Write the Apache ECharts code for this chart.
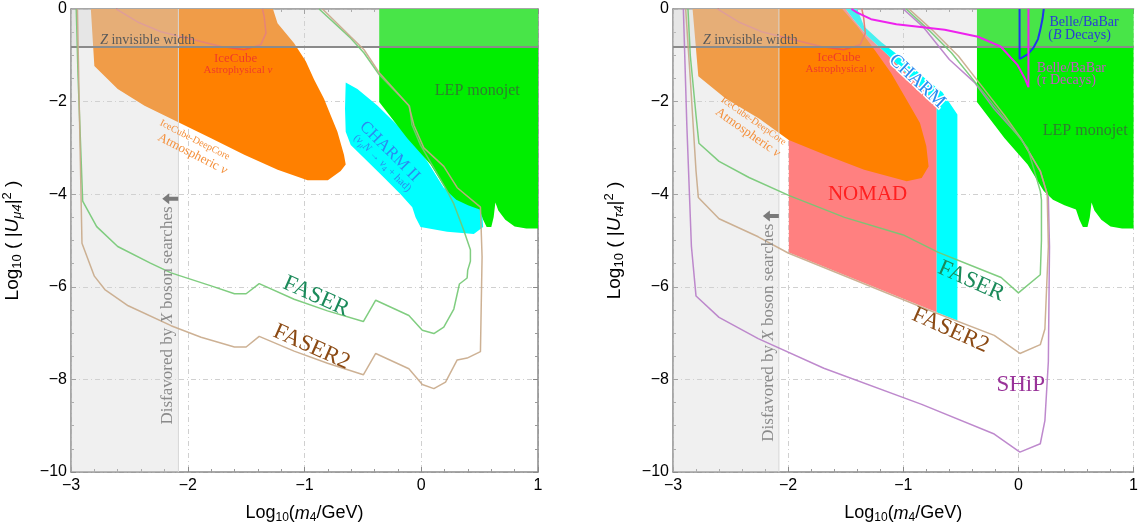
<!DOCTYPE html>
<html><head><meta charset="utf-8">
<script src="https://cdn.jsdelivr.net/npm/echarts@6/dist/echarts.min.js"></script>
<style>html,body{margin:0;padding:0;background:#fff}#c{width:1141px;height:529px}</style>
</head><body><div id="c"></div>
<script>
// ---------------- data (log10 m4/GeV , log10 |U|^2) ----------------
const xTickLabels = [-3, -2, -1, 0, 1];
const yTickLabels = [0, -2, -4, -6, -8, -10];
const xBosonLimit = -2.08;
const zInvisibleLimit = -0.82;

const iceCubeDeepCoreMu = [[-2.83,0],[-1.27,0],[-1.231,-0.31],[-1.089,-0.74],[-0.989,-1.13],[-0.918,-1.52],[-0.833,-1.94],[-0.775,-2.30],[-0.718,-2.65],[-0.662,-3.15],[-0.647,-3.36],[-0.69,-3.50],[-0.80,-3.70],[-0.974,-3.70],[-1.23,-3.47],[-1.516,-3.15],[-1.80,-2.79],[-2.085,-2.44],[-2.37,-2.09],[-2.60,-1.73],[-2.80,-1.23]];
const iceCubeDeepCoreTau = [[-2.83,0],[-1.53,0],[-1.40,-0.37],[-1.25,-0.88],[-1.106,-1.38],[-0.99,-1.88],[-0.855,-2.46],[-0.80,-2.96],[-0.78,-3.40],[-0.84,-3.65],[-0.97,-3.72],[-1.34,-3.47],[-1.68,-3.15],[-1.995,-2.83],[-2.25,-2.37],[-2.54,-1.94],[-2.78,-1.45]];
const iceCubeAstro = [[-2.613,0],[-2.43,-0.28],[-2.23,-0.49],[-1.94,-0.67],[-1.715,-0.81],[-1.516,-0.88],[-1.374,-0.77],[-1.33,-0.52],[-1.345,-0.17],[-1.36,0]];
const charmIIMu = [[-0.647,-1.587],[-0.547,-1.73],[-0.376,-2.085],[-0.091,-2.79],[0.051,-3.29],[0.193,-3.86],[0.336,-4.11],[0.521,-4.35],[0.53,-4.71],[0.45,-4.86],[0.222,-4.81],[-0.006,-4.71],[-0.049,-4.50],[-0.077,-4.28],[-0.177,-4.0],[-0.32,-3.64],[-0.49,-3.22],[-0.604,-2.94],[-0.647,-2.65],[-0.653,-2.155]];
const lepMonojet = [[-0.36,0],[-0.36,-2.01],[-0.12,-2.79],[0.08,-3.36],[0.22,-3.93],[0.30,-4.12],[0.40,-4.24],[0.50,-4.33],[0.53,-4.55],[0.56,-4.71],[0.60,-4.71],[0.62,-4.50],[0.635,-4.18],[0.66,-4.35],[0.72,-4.55],[0.80,-4.70],[0.90,-4.74],[1.0,-4.74],[1.0,0]];
const faserMu = [[-2.955,0],[-2.94,-1.43],[-2.90,-4.15],[-2.78,-4.70],[-2.60,-5.13],[-2.32,-5.49],[-2.143,-5.70],[-1.80,-5.98],[-1.60,-6.15],[-1.50,-6.15],[-1.388,-5.93],[-1.089,-6.27],[-0.803,-6.52],[-0.496,-6.75],[-0.39,-6.29],[-0.106,-6.62],[0.009,-6.94],[0.108,-7.01],[0.193,-6.87],[0.279,-6.48],[0.327,-5.94],[0.393,-5.81],[0.398,-5.64],[0.421,-5.45],[0.421,-5.20],[0.364,-4.78],[0.279,-4.21],[0.222,-3.93],[0.10,-3.40],[-0.006,-2.94],[-0.08,-2.50],[-0.10,-2.10],[-0.36,-1.42],[-0.49,-0.95],[-0.604,-0.63],[-0.875,0]];
const faser2Mu = [[-2.945,0],[-2.93,-2.0],[-2.906,-5.06],[-2.80,-5.77],[-2.71,-6.06],[-2.51,-6.41],[-2.143,-6.84],[-1.886,-7.09],[-1.60,-7.30],[-1.50,-7.30],[-1.388,-7.07],[-1.089,-7.39],[-0.803,-7.65],[-0.496,-7.90],[-0.39,-7.44],[-0.106,-7.77],[0.009,-8.11],[0.108,-8.20],[0.208,-8.06],[0.308,-7.58],[0.393,-7.54],[0.507,-7.40],[0.521,-5.35],[0.507,-4.28],[0.308,-3.86],[0.193,-3.40],[0.022,-3.0],[-0.063,-2.51],[-0.106,-2.085],[-0.362,-1.37],[-0.49,-0.88],[-0.604,-0.60],[-0.846,0]];
const charmEdgeTau = [[-1.50,0],[-1.43,-0.23],[-1.31,-0.59],[-1.136,-0.99],[-0.99,-1.35],[-0.84,-1.70],[-0.71,-2.05]];
const nomadTau = [[-1.994,-5.26],[-1.994,-2.7],[-1.7,-1.0],[-1.56,0]].concat(charmEdgeTau, [[-0.71,-6.55]]);
const charmTau = [[-1.50,0],[-1.40,0],[-1.34,-0.38],[-1.19,-0.72],[-0.99,-1.10],[-0.81,-1.50],[-0.66,-1.80],[-0.53,-2.28],[-0.53,-6.73],[-0.71,-6.55]].concat(charmEdgeTau.slice().reverse());
const faserTau = [[-2.87,0],[-2.85,-1.0],[-2.80,-2.3],[-2.775,-2.90],[-2.60,-3.29],[-2.34,-3.64],[-1.99,-4.03],[-1.51,-4.50],[-1.0,-4.88],[-0.70,-5.25],[-0.40,-5.55],[-0.15,-5.80],[0.0,-6.13],[0.19,-5.74],[0.20,-5.0],[0.20,-4.12],[0.19,-3.93],[0.08,-3.0],[-0.12,-2.37],[-0.35,-1.66],[-0.58,-0.95],[-0.78,-0.45],[-0.975,0]];
const faser2Tau = [[-2.89,0],[-2.85,-1.5],[-2.80,-3.5],[-2.78,-4.07],[-2.60,-4.53],[-2.26,-4.92],[-2.0,-5.27],[-0.72,-6.56],[-0.21,-7.05],[0.013,-7.44],[0.19,-7.25],[0.23,-6.91],[0.26,-5.13],[0.25,-4.0],[0.19,-3.50],[0.02,-2.79],[-0.12,-2.30],[-0.32,-1.66],[-0.52,-1.02],[-0.75,-0.45],[-0.95,0]];
const shipTau = [[-2.91,0],[-2.88,-2.5],[-2.84,-5.13],[-2.80,-6.20],[-2.60,-6.66],[-2.26,-7.12],[-1.69,-7.76],[-0.84,-8.54],[-0.21,-9.18],[0.013,-9.57],[0.19,-9.39],[0.23,-8.89],[0.26,-7.62],[0.27,-5.13],[0.26,-4.07],[0.19,-3.50],[0.02,-2.79],[-0.21,-2.16],[-0.38,-1.59],[-0.60,-1.09],[-0.83,-0.38],[-1.0,0]];
const belleB = [[0.01,0],[0.01,-1.08],[0.08,-0.98],[0.13,-0.84],[0.17,-0.65],[0.19,-0.45],[0.21,-0.2],[0.22,0]];
const belleTau = [[-1.45,0],[-1.40,-0.08],[-1.28,-0.22],[-1.06,-0.33],[-0.64,-0.45],[-0.35,-0.60],[-0.155,-0.81],[-0.01,-1.20],[0.06,-1.52],[0.087,-1.69],[0.087,0]];

const arrowMu = [-2.15, -4.10];
const arrowTau = [-2.15, -4.47];

// annotations: text, anchor (data coords)
const labelsMu = [
  {t:'{i|Z} invisible width', x:-2.75, y:-0.68, a:'left', c:'#5a5a5a', s:14},
  {t:'IceCube', x:-1.59, y:-1.08, c:'#f03c28', s:13},
  {t:'Astrophysical {i|ν}', x:-1.57, y:-1.31, c:'#f03c28', s:11},
  {t:'IceCube-DeepCore', x:-1.94, y:-2.83, rot:-27, c:'#f4903c', s:10},
  {t:'Atmospheric {i|ν}', x:-1.96, y:-3.13, rot:-27, c:'#f4903c', s:13},
  {t:'CHARM II', x:-0.27, y:-3.08, rot:-45, c:'#2a8cf0', s:17},
  {t:'({i|ν}{isub|μ}{i|N} → {i|ν}{sub|4} + had)', x:-0.333, y:-3.33, rot:-45, c:'#2a8cf0', s:11},
  {t:'LEP monojet', x:0.48, y:-1.77, c:'#2f7d2f', s:16},
  {t:'FASER', x:-0.90, y:-6.21, rot:-24, c:'#1b8a5a', s:23},
  {t:'FASER2', x:-0.94, y:-7.30, rot:-24, c:'#8b4a14', s:23},
  {t:'Disfavored by {i|X} boson searches', x:-2.17, y:-6.62, rot:90, c:'#8a8a8a', s:17}
];
const labelsTau = [
  {t:'{i|Z} invisible width', x:-2.74, y:-0.68, a:'left', c:'#5a5a5a', s:14},
  {t:'IceCube', x:-1.56, y:-1.06, c:'#f03c28', s:13},
  {t:'Astrophysical {i|ν}', x:-1.55, y:-1.29, c:'#f03c28', s:11},
  {t:'IceCube-DeepCore', x:-2.30, y:-2.42, rot:-35, c:'#f4903c', s:10},
  {t:'Atmospheric {i|ν}', x:-2.35, y:-2.67, rot:-35, c:'#f4903c', s:13},
  {t:'CHARM', x:-0.88, y:-1.56, rot:-43, c:'#2a8cf0', s:19, stroke:'#fff'},
  {t:'NOMAD', x:-1.31, y:-4.01, c:'#ff2020', s:21},
  {t:'LEP monojet', x:0.58, y:-2.62, c:'#2f7d2f', s:16},
  {t:'Belle/BaBar', x:0.27, y:-0.29, a:'left', c:'#2a3ad8', s:14},
  {t:'({i|B} Decays)', x:0.26, y:-0.57, a:'left', c:'#2a3ad8', s:14},
  {t:'Belle/BaBar', x:0.16, y:-1.28, a:'left', c:'#c455c4', s:14},
  {t:'({i|τ} Decays)', x:0.16, y:-1.55, a:'left', c:'#c455c4', s:14},
  {t:'FASER', x:-0.41, y:-5.88, rot:-24, c:'#1b8a5a', s:23},
  {t:'FASER2', x:-0.59, y:-6.94, rot:-24, c:'#8b4a14', s:23},
  {t:'SHiP', x:0.02, y:-8.11, c:'#993399', s:23},
  {t:'Disfavored by {i|X} boson searches', x:-2.17, y:-6.99, rot:90, c:'#8a8a8a', s:17}
];

// ---------------- chart ----------------
const SERIF = "'Liberation Serif','DejaVu Serif',serif";
const SANS = "'Liberation Sans',Arial,sans-serif";
const X0 = xTickLabels[0], X1 = xTickLabels[xTickLabels.length-1];
const Y0 = yTickLabels[yTickLabels.length-1], Y1 = yTickLabels[0];

function richFor(size, color) {
  const s = Math.round(size*0.72);
  return {
    i:{fontStyle:'italic', fontSize:size, fontFamily:SERIF, fill:color},
    sub:{fontSize:s, fontFamily:SERIF, fill:color, padding:[Math.round(size*0.5),0,0,0]},
    isub:{fontSize:s, fontStyle:'italic', fontFamily:SERIF, fill:color, padding:[Math.round(size*0.5),0,0,0]}
  };
}

function polySeries(gi, pts, fill, z) {
  return {type:'custom', xAxisIndex:gi, yAxisIndex:gi, z:z, silent:true, data:pts,
    renderItem(params, api) {
      if (params.dataIndex !== 0) return null;
      return {type:'polygon', shape:{points:pts.map(p => api.coord(p))}, style:{fill:fill}};
    }};
}
function lineSeries(gi, pts, color, width, z, opacity) {
  return {type:'line', xAxisIndex:gi, yAxisIndex:gi, data:pts, showSymbol:false, symbol:'none',
    z:z, silent:true, lineStyle:{color:color, width:width, opacity:opacity==null?1:opacity}};
}
function labelSeries(gi, labels) {
  return {type:'custom', xAxisIndex:gi, yAxisIndex:gi, z:20, silent:true,
    data: labels.map(l => [l.x, l.y]),
    renderItem(params, api) {
      const l = labels[params.dataIndex];
      const p = api.coord([api.value(0), api.value(1)]);
      const style = {text:l.t, fill:l.c, fontSize:l.s, fontFamily:SERIF,
        align:l.a||'center', verticalAlign:'middle', rich:richFor(l.s, l.c)};
      if (l.stroke) { style.stroke = l.stroke; style.lineWidth = 3; }
      return {type:'text', x:p[0], y:p[1], rotation:(l.rot||0)*Math.PI/180, style:style};
    }};
}
function arrowSeries(gi, pt) {
  return {type:'custom', xAxisIndex:gi, yAxisIndex:gi, z:20, silent:true, data:[pt],
    renderItem(params, api) {
      const p = api.coord([api.value(0), api.value(1)]);
      const x = p[0], y = p[1];
      return {type:'polygon', shape:{points:[[x-8,y],[x-1,y-5.5],[x-1,y-2],[x+8,y-2],[x+8,y+2],[x-1,y+2],[x-1,y+5.5]]}, style:{fill:'#7a7a7a'}};
    }};
}
function overlaySeries(gi) {
  const xb = [[X0,Y1],[xBosonLimit,Y1],[xBosonLimit,Y0],[X0,Y0]];
  const zb = [[X0,Y1],[X1,Y1],[X1,zInvisibleLimit],[X0,zInvisibleLimit]];
  return [
    polySeries(gi, xb, 'rgba(211,211,211,0.34)', 5),
    polySeries(gi, zb, 'rgba(211,211,211,0.34)', 5),
    lineSeries(gi, [[xBosonLimit,Y1],[xBosonLimit,Y0]], '#d6d6d6', 1, 6),
    lineSeries(gi, [[X0,zInvisibleLimit],[X1,zInvisibleLimit]], '#8a8a8a', 2, 6)
  ];
}

const nameRich = {
  n:{fontSize:19, fontFamily:SANS, color:'#000'},
  sub:{fontSize:13, fontFamily:SANS, color:'#000', padding:[10,0,0,0]},
  i:{fontSize:19, fontFamily:SANS, fontStyle:'italic', color:'#000'},
  isub:{fontSize:13, fontFamily:SANS, fontStyle:'italic', color:'#000', padding:[10,0,0,0]},
  sup:{fontSize:13, fontFamily:SANS, color:'#000', padding:[0,0,10,0]}
};
const xNameRich = {
  n:{fontSize:18, fontFamily:SANS, color:'#000'},
  sub:{fontSize:12, fontFamily:SANS, color:'#000', padding:[9,0,0,0]},
  i:{fontSize:18, fontFamily:SANS, fontStyle:'italic', color:'#000'}
};
const fmt = v => String(v).replace('-', '\u2212');

function xAx(gi, pos) {
  const main = pos === 'bottom';
  return {type:'value', gridIndex:gi, position:pos, min:X0, max:X1, interval:1,
    axisLine:{show:true, onZero:false, lineStyle:{color:'#8a8a8a', width:1.5}},
    axisTick:{show:true, inside:true, length:5, lineStyle:{color:'#8a8a8a'}},
    minorTick:{show:true, splitNumber:5, length:3, lineStyle:{color:'#9a9a9a'}},
    splitLine:{show:main, lineStyle:{color:'#d0d0d0', type:[5,3,1,3]}},
    axisLabel:{show:main, formatter:fmt, color:'#000', fontSize:16, fontFamily:SANS, margin:6},
    name: main ? '{n|Log}{sub|10}{n|(}{i|m}{sub|4}{n|/GeV)}' : '',
    nameLocation:'middle', nameGap:31, nameTextStyle:{rich:xNameRich}};
}
function yAx(gi, pos, nm) {
  const main = pos === 'left';
  return {type:'value', gridIndex:gi, position:pos, min:Y0, max:Y1, interval:2,
    axisLine:{show:true, onZero:false, lineStyle:{color:'#8a8a8a', width:1.5}},
    axisTick:{show:true, inside:true, length:5, lineStyle:{color:'#8a8a8a'}},
    minorTick:{show:true, splitNumber:4, length:3, lineStyle:{color:'#9a9a9a'}},
    splitLine:{show:main, lineStyle:{color:'#d0d0d0', type:[5,3,1,3]}},
    axisLabel:{show:main, formatter:fmt, color:'#000', fontSize:16, fontFamily:SANS, margin:4},
    name: main ? nm : '', nameLocation:'middle', nameGap:47, nameTextStyle:{rich:nameRich}};
}

const series = [
  // left: mu
  polySeries(0, iceCubeDeepCoreMu, '#ff8000', 2),
  polySeries(0, charmIIMu, '#00ffff', 2),
  polySeries(0, lepMonojet, '#00ee00', 2),
  lineSeries(0, iceCubeAstro, '#f05a48', 1.5, 3),
  ...overlaySeries(0),
  lineSeries(0, faserMu, '#72c872', 1.5, 7, 0.9),
  lineSeries(0, faser2Mu, '#c8a888', 1.5, 7, 0.9),
  labelSeries(0, labelsMu),
  arrowSeries(0, arrowMu),
  // right: tau
  polySeries(1, nomadTau, '#ff8080', 1),
  polySeries(1, charmTau, '#00ffff', 1),
  polySeries(1, iceCubeDeepCoreTau, '#ff8000', 2),
  polySeries(1, lepMonojet, '#00ee00', 2),
  lineSeries(1, iceCubeAstro, '#f05a48', 1.5, 3),
  ...overlaySeries(1),
  lineSeries(1, shipTau, '#b77cc8', 1.5, 7, 0.9),
  lineSeries(1, faser2Tau, '#c8a888', 1.5, 7, 0.9),
  lineSeries(1, faserTau, '#72c872', 1.5, 7, 0.9),
  lineSeries(1, belleB, '#2233ee', 2, 8),
  lineSeries(1, belleTau, '#ee22ee', 2, 8),
  labelSeries(1, labelsTau),
  arrowSeries(1, arrowTau)
];

const chart = echarts.init(document.getElementById('c'));
chart.setOption({
  animation:false,
  backgroundColor:'#fff',
  grid:[{left:70, top:9, width:468, height:470}, {left:673, top:9, width:468, height:470}],
  xAxis:[xAx(0,'bottom'), xAx(1,'bottom'), xAx(0,'top'), xAx(1,'top')],
  yAxis:[
    yAx(0,'left','{n|Log}{sub|10}{n| ( |}{i|U}{isub|μ4}{n||}{sup|2}{n| )}'),
    yAx(1,'left','{n|Log}{sub|10}{n| ( |}{i|U}{isub|τ4}{n||}{sup|2}{n| )}'),
    yAx(0,'right','')
  ],
  series: series
});
</script></body></html>
